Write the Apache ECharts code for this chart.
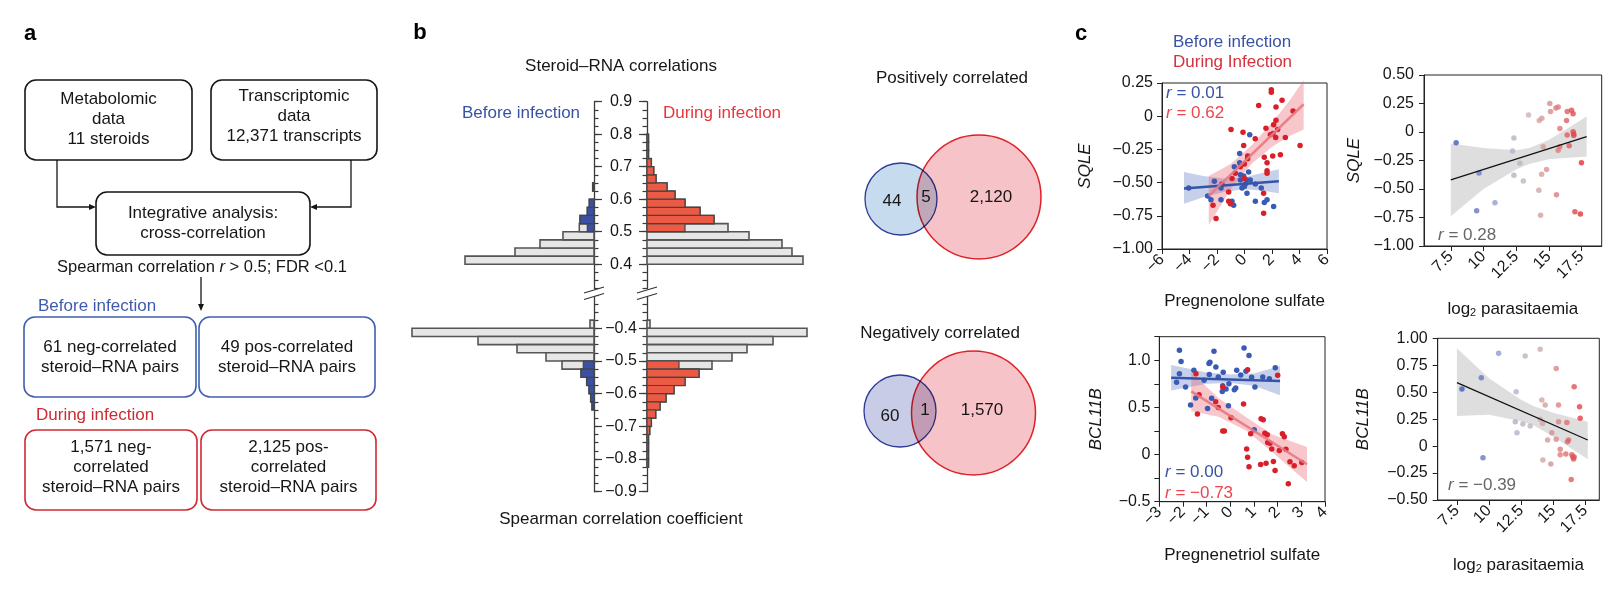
<!DOCTYPE html>
<html>
<head>
<meta charset="utf-8">
<script src="https://cdn.jsdelivr.net/npm/echarts@6.0.0/dist/echarts.min.js"></script>
<style>
html,body{margin:0;padding:0;background:#fff;}
#chart{width:1617px;height:593px;}
</style>
</head>
<body>
<div id="chart"></div>
<script>
// ======================= DATA =======================
// Panel a – flowchart numbers
const steroidCount = [11];
const transcriptCount = [12371];
const beforeInfectionPairs = [61, 49];      // [neg, pos]
const duringInfectionPairs = [1571, 2125];  // [neg, pos]
const rThreshold = [0.5];
const fdrThreshold = [0.1];

// Panel b – histograms (bar lengths, relative units)
const binWidth = 0.025;
const posBinStarts = [0.400,0.425,0.450,0.475,0.500,0.525,0.550,0.575,0.600,0.625,0.650,0.675,0.700,0.725,0.750,0.775];
const posBeforeAll = [129,79,54,31,14.7,14,6.7,4.7,0,1.3,0,0,0,0,0,0];
const posBeforeSig = [0,0,0,0,6.7,14,6.7,4.7,0,1.3,0,0,0,0,0,0];
const posDuringAll = [156,145,135,102,81,67,53,38,28,20,9,6.7,4.3,1.5,1.5,1.5];
const posDuringSig = [0,0,0,0,38,67,53,38,28,20,9,6.7,4.3,1.5,1.5,1.5];
const negBinStarts = [-0.400,-0.425,-0.450,-0.475,-0.500,-0.525,-0.550,-0.575,-0.600,-0.625,-0.650,-0.675,-0.700,-0.725,-0.750,-0.775,-0.800,-0.825];
const negBeforeAll = [4,182,116,77,48,32,13,7.3,5,3.3,2,0,0,0,0,0,0,0];
const negBeforeSig = [0,0,0,0,0,10.7,13,7.3,5,3.3,2,0,0,0,0,0,0,0];
const negDuringAll = [3,160,126,100,85,65,52,38,27,19,13,8.7,4.3,2.7,1.5,1.5,1.5,1.5];
const negDuringSig = [0,0,0,0,0,32,52,38,27,19,13,8.7,4.3,2.7,1.5,1.5,1.5,1.5];

// Panel b – Venn counts [before only, both, during only]
const vennPositive = [44, 5, 2120];
const vennNegative = [60, 1, 1570];

// Panel c – scatter data
const s1Before = [[-2.19,-0.49],[-4.06,-0.54],[-2.68,-0.60],[-2.44,-0.63],[-1.71,-0.63],[-1.71,-0.54],[-0.35,-0.28],[0.38,-0.14],[-0.74,-0.38],[-0.35,-0.35],[-0.30,-0.44],[-0.06,-0.45],[0.30,-0.42],[0.18,-0.48],[-0.30,-0.48],[-0.18,-0.54],[-0.01,-0.53],[0.18,-0.58],[-0.79,-0.67],[-0.91,-0.64],[0.79,-0.64],[1.22,-0.54],[1.64,-0.63],[1.44,-0.65],[2.12,-0.68],[0.79,-0.51],[0.42,-0.48],[0.06,-0.51]];
const s1During = [[1.95,0.20],[1.95,0.18],[2.73,0.12],[1.03,0.08],[2.29,0.07],[2.29,-0.03],[2.12,-0.065],[2.41,-0.10],[1.56,-0.09],[-0.98,-0.10],[2.07,-0.13],[1.88,-0.14],[2.27,-0.16],[2.97,-0.16],[0.78,-0.17],[-0.11,-0.12],[-0.06,-0.22],[3.53,0.04],[4.04,-0.22],[0.23,-0.30],[0.23,-0.32],[2.61,-0.29],[2.05,-0.30],[1.44,-0.31],[1.64,-0.35],[1.64,-0.41],[1.64,-0.43],[-0.01,-0.36],[-0.30,-0.38],[-0.91,-0.47],[-1.64,-0.51],[-1.15,-0.57],[-1.15,-0.64],[-1.03,-0.66],[1.39,-0.58],[1.39,-0.73],[-2.29,-0.67],[-2.07,-0.77],[-0.01,-0.47],[-0.67,-0.43]];
const s2Points = [[7.91,-0.094],[9.66,-0.36],[9.48,-0.69],[10.88,-0.62],[12.33,-0.053],[12.23,-0.167],[12.33,-0.38],[12.79,-0.275],[13.05,-0.43],[13.45,0.15],[14.27,0.10],[14.47,0.12],[14.57,-0.13],[14.45,-0.37],[14.83,-0.33],[14.24,-0.51],[14.37,-0.73],[15.08,0.25],[15.13,0.18],[15.54,0.21],[15.72,0.22],[15.59,-0.55],[15.85,0.03],[15.72,-0.16],[15.85,-0.13],[16.36,0.10],[16.41,0.18],[16.74,0.19],[16.86,0.16],[16.41,-0.026],[16.56,-0.12],[16.86,0.003],[16.91,-0.017],[16.91,-0.03],[17.5,-0.27],[17.0,-0.70],[17.42,-0.72]];
const s3Before = [[-2.15,1.106],[-2.08,0.986],[-2.27,0.766],[-2.15,0.858],[-1.89,0.716],[-1.54,0.894],[-1.46,0.60],[-1.68,0.525],[-1.11,0.787],[-0.90,0.965],[-0.86,0.979],[-0.89,0.848],[-0.69,1.096],[-0.61,0.929],[-0.51,0.823],[-0.30,0.872],[-0.32,0.73],[-0.34,0.67],[-0.18,0.695],[-0.06,0.75],[-0.08,0.518],[-0.79,0.596],[-0.96,0.489],[0.17,0.688],[0.23,0.706],[0.27,0.894],[0.44,0.844],[0.58,1.13],[0.79,1.05],[0.66,0.883],[0.90,0.819],[1.04,0.716],[1.01,0.262],[1.37,0.823],[1.65,0.805],[1.90,0.922]];
const s3During = [[-1.45,0.858],[-1.32,0.635],[-1.39,0.429],[-0.62,0.56],[-0.51,0.50],[-0.32,0.716],[-0.32,0.25],[-0.25,0.25],[0.03,0.39],[0.56,0.535],[0.73,0.90],[0.69,0.06],[0.73,-0.028],[0.79,-0.128],[0.86,0.22],[1.30,0.38],[1.39,0.369],[1.46,0.227],[1.56,0.209],[1.58,0.128],[1.68,0.12],[1.75,0.06],[1.82,-0.074],[1.89,-0.17],[1.28,-0.106],[1.51,-0.092],[2.0,0.84],[2.07,0.043],[2.20,0.22],[2.28,0.19],[2.35,0.057],[2.52,-0.075],[2.70,-0.12],[2.45,-0.31],[3.02,-0.085]];
const s4Points = [[7.89,0.53],[9.40,0.635],[9.53,-0.107],[10.75,0.861],[12.12,0.505],[12.05,0.227],[12.18,0.125],[12.64,0.205],[12.82,0.836],[13.21,0.187],[13.99,0.898],[14.12,0.428],[14.38,0.381],[13.99,0.25],[14.17,0.21],[14.2,-0.129],[14.57,0.057],[14.82,-0.166],[14.9,0.125],[15.24,0.72],[15.42,0.381],[15.42,0.227],[15.24,0.063],[15.55,-0.03],[15.55,-0.08],[16.07,0.22],[15.99,-0.073],[16.12,0.041],[16.2,0.057],[16.64,0.55],[17.06,0.366],[17.11,0.258],[16.46,-0.08],[16.54,-0.10],[16.59,-0.12],[16.64,-0.10],[16.41,-0.31]];

// Panel c – fitted lines and confidence bands
const s1BeforeLine = [[-4.4,-0.545],[2.5,-0.49]];
const s1BeforeBandX = [-4.4,-3,-1.5,0,1.2,2.5];
const s1BeforeBandUp = [-0.42,-0.45,-0.47,-0.46,-0.43,-0.40];
const s1BeforeBandLo = [-0.66,-0.61,-0.57,-0.55,-0.56,-0.58];
const s1DuringLine = [[-2.6,-0.60],[4.3,0.09]];
const s1DuringBandX = [-2.6,-1,0.5,2,3.3,4.3];
const s1DuringBandUp = [-0.45,-0.36,-0.22,-0.05,0.12,0.27];
const s1DuringBandLo = [-0.82,-0.55,-0.36,-0.23,-0.15,-0.10];
const s2Line = [[7.5,-0.42],[17.9,-0.04]];
const s2BandX = [7.5,10,12.5,13.5,15,17.9];
const s2BandUp = [-0.10,-0.14,-0.16,-0.14,-0.07,0.135];
const s2BandLo = [-0.74,-0.50,-0.33,-0.28,-0.24,-0.215];
const s3BeforeLine = [[-2.5,0.815],[2.1,0.78]];
const s3BeforeBandX = [-2.5,-1,0,1,2.1];
const s3BeforeBandUp = [0.95,0.87,0.85,0.86,0.94];
const s3BeforeBandLo = [0.68,0.75,0.76,0.73,0.63];
const s3DuringLine = [[-1.65,0.67],[3.24,-0.103]];
const s3DuringBandX = [-1.65,-0.5,0.7,1.8,3.24];
const s3DuringBandUp = [0.87,0.60,0.39,0.21,0.08];
const s3DuringBandLo = [0.46,0.40,0.25,0.02,-0.29];
const s4Line = [[7.5,0.589],[17.7,0.057]];
const s4BandX = [7.5,10,12.5,13.5,15,17.7];
const s4BandUp = [0.907,0.63,0.43,0.37,0.31,0.227];
const s4BandLo = [0.279,0.29,0.23,0.19,0.09,-0.123];
const rValues = { s1: [0.01, 0.62], s2: [0.28], s3: [0.00, -0.73], s4: [-0.39] };

// Tick label values
const parasitaemiaTicks = [7.5, 10, 12.5, 15, 17.5];

// ======================= STYLE / HELPERS =======================
const F = "'Liberation Sans', Arial, Helvetica, sans-serif";
const INK = '#161616';
const BLUE_T = '#3953a4';
const minus = s => String(s).replace(/-/g, '\u2212');
const fmtN = n => n.toLocaleString('en-US');
const fmtR = v => minus(v.toFixed(2));

const grids = [], xAxes = [], yAxes = [], series = [];
function addGrid(g, xa, ya) {
  const i = grids.length;
  grids.push(g);
  xAxes.push(Object.assign({ gridIndex: i }, xa));
  yAxes.push(Object.assign({ gridIndex: i }, ya));
  return i;
}

// ---------- Panel b histogram grids ----------
const HL = 400, HW = 194, HR = 647;
const upTop = 101.7, upScale = 325;
const loY04 = 328.3, loScale = 326.8;
const histAxisLine = { show: true, onZero: false, lineStyle: { color: '#3a3a3a', width: 1.3 } };
const hidden = { show: false };

function histGrid(side, kind, half) {
  const isLeft = side === 'L';
  let min, max, top, height, interval, tickLen;
  if (half === 'U') {
    max = 0.9; top = upTop;
    if (kind === 'minor') { min = 0.325; interval = 0.025; tickLen = 4.5; }
    else { min = 0.4; interval = 0.1; tickLen = 8; }
    height = (max - min) * upScale;
  } else {
    min = -0.9;
    if (kind === 'minor') { max = -0.3; interval = 0.025; tickLen = 4.5; }
    else { max = -0.4; interval = 0.1; tickLen = 8; }
    top = loY04 - (max + 0.4) * loScale;
    height = (max - min) * loScale;
  }
  const showLabel = (!isLeft && kind === 'major');
  return addGrid(
    { left: isLeft ? HL : HR, top: top, width: HW, height: height },
    { type: 'value', min: 0, max: HW, inverse: isLeft, show: false },
    { type: 'value', min: min, max: max, interval: interval, position: isLeft ? 'right' : 'left',
      axisLine: kind === 'minor' ? histAxisLine : { show: false },
      axisTick: { show: true, length: tickLen, lineStyle: { color: '#3a3a3a', width: 1.2 } },
      splitLine: hidden,
      axisLabel: showLabel ? { show: true, align: 'center', margin: 26, fontSize: 16, color: INK, fontFamily: F,
        formatter: v => minus(v.toFixed(1)) } : { show: false } }
  );
}

function barData(starts, vals) {
  return starts.map((s, i) => [s, +(s + binWidth).toFixed(4), vals[i]]).filter(d => d[2] > 0);
}
function barSeries(gi, data, fill, stroke, lw, z) {
  return {
    type: 'custom', xAxisIndex: gi, yAxisIndex: gi, data: data, z: z, silent: true,
    encode: { x: 2, y: 0 },
    renderItem: function (p, api) {
      const a = api.coord([0, api.value(0)]);
      const b = api.coord([api.value(2), api.value(1)]);
      return { type: 'rect',
        shape: { x: Math.min(a[0], b[0]), y: Math.min(a[1], b[1]), width: Math.abs(b[0] - a[0]), height: Math.abs(b[1] - a[1]) },
        style: { fill: fill, stroke: stroke, lineWidth: lw } };
    }
  };
}
const GREY_FILL = '#e6e6e6', BAR_STROKE = '#555', BLUE_BAR = '#3b50a2', RED_BAR = '#eb5a45';

['U', 'L'].forEach(half => {
  const gL = histGrid('L', 'minor', half);
  const gR = histGrid('R', 'minor', half);
  histGrid('L', 'major', half);
  histGrid('R', 'major', half);
  const starts = half === 'U' ? posBinStarts : negBinStarts;
  const bAll = half === 'U' ? posBeforeAll : negBeforeAll;
  const bSig = half === 'U' ? posBeforeSig : negBeforeSig;
  const dAll = half === 'U' ? posDuringAll : negDuringAll;
  const dSig = half === 'U' ? posDuringSig : negDuringSig;
  series.push(barSeries(gL, barData(starts, bAll), GREY_FILL, BAR_STROKE, 1.6, 2));
  series.push(barSeries(gL, barData(starts, bSig), BLUE_BAR, '#444', 1.2, 3));
  series.push(barSeries(gR, barData(starts, dAll), GREY_FILL, BAR_STROKE, 1.6, 2));
  series.push(barSeries(gR, barData(starts, dSig), RED_BAR, '#444', 1.2, 3));
});

// ---------- Panel c scatter grids ----------
const axLine = { show: true, onZero: false, lineStyle: { color: '#222', width: 1 } };
const axTick = { show: true, length: 5, lineStyle: { color: '#222', width: 1 } };
const tickFont = { fontSize: 16, color: INK, fontFamily: F };
const nameFont = { fontSize: 17, color: INK, fontFamily: F };
const subRich = { n: { fontSize: 17, color: INK, fontFamily: F, lineHeight: 20, verticalAlign: 'bottom' },
                  s: { fontSize: 11, color: INK, fontFamily: F, lineHeight: 11, verticalAlign: 'bottom' } };

function yFmt2(v) { return Math.abs(v) < 1e-9 ? '0' : minus(v.toFixed(2)); }
function yFmtHalf(v) {
  if (Math.abs(v * 2 - Math.round(v * 2)) > 1e-6) return '';
  return Math.abs(v) < 1e-9 ? '0' : minus(v.toFixed(1));
}

function scatterGrid(g, x, y) {
  return addGrid(Object.assign({ show: true, borderColor: '#222', borderWidth: 1, backgroundColor: 'transparent' }, g),
    Object.assign({ type: 'value', axisLine: axLine, axisTick: axTick, splitLine: hidden, nameLocation: 'middle' }, x),
    Object.assign({ type: 'value', axisLine: axLine, axisTick: axTick, splitLine: hidden, nameLocation: 'middle', nameRotate: 90 }, y));
}

const gS1 = scatterGrid({ left: 1162, top: 83, width: 165, height: 166 },
  { min: -6, max: 6, interval: 2, axisLabel: Object.assign({ rotate: 45, margin: 8, formatter: v => minus(v) }, tickFont),
    name: 'Pregnenolone sulfate', nameGap: 44, nameTextStyle: nameFont },
  { min: -1, max: 0.25, interval: 0.25, axisLabel: Object.assign({ margin: 9, formatter: yFmt2 }, tickFont),
    name: 'SQLE', nameGap: 68, nameTextStyle: Object.assign({ fontStyle: 'italic' }, nameFont) });

const gS2 = scatterGrid({ left: 1424, top: 75, width: 177.7, height: 171 },
  { min: 5.45, max: 19.05, axisTick: Object.assign({ customValues: parasitaemiaTicks }, axTick),
    axisLabel: Object.assign({ customValues: parasitaemiaTicks, rotate: 45, margin: 8, formatter: v => String(v) }, tickFont),
    name: '{n|log}{s|2}{n| parasitaemia}', nameGap: 52, nameTextStyle: Object.assign({ rich: subRich }, nameFont) },
  { min: -1, max: 0.5, interval: 0.25, axisLabel: Object.assign({ margin: 10, formatter: yFmt2 }, tickFont),
    name: 'SQLE', nameGap: 61, nameTextStyle: Object.assign({ fontStyle: 'italic' }, nameFont) });

const gS3 = scatterGrid({ left: 1159.3, top: 336.7, width: 165.7, height: 165 },
  { min: -3, max: 4, interval: 1, axisLabel: Object.assign({ rotate: 45, margin: 8, formatter: v => minus(v) }, tickFont),
    name: 'Pregnenetriol sulfate', nameGap: 45, nameTextStyle: nameFont },
  { min: -0.5, max: 1.25, interval: 0.25, axisLabel: Object.assign({ margin: 9, formatter: yFmtHalf }, tickFont),
    name: 'BCL11B', nameGap: 55, nameTextStyle: Object.assign({ fontStyle: 'italic' }, nameFont) });

const gS4 = scatterGrid({ left: 1437.7, top: 338.3, width: 161.6, height: 161.7 },
  { min: 6.0, max: 18.6, axisTick: Object.assign({ customValues: parasitaemiaTicks }, axTick),
    axisLabel: Object.assign({ customValues: parasitaemiaTicks, rotate: 45, margin: 8, formatter: v => String(v) }, tickFont),
    name: '{n|log}{s|2}{n| parasitaemia}', nameGap: 54, nameTextStyle: Object.assign({ rich: subRich }, nameFont) },
  { min: -0.5, max: 1.0, interval: 0.25, axisLabel: Object.assign({ margin: 10, formatter: yFmt2 }, tickFont),
    name: 'BCL11B', nameGap: 66, nameTextStyle: Object.assign({ fontStyle: 'italic' }, nameFont) });

function bandSeries(gi, xs, up, lo, color, z) {
  return {
    type: 'custom', xAxisIndex: gi, yAxisIndex: gi, data: [[xs[0], up[0]]], z: z, silent: true,
    renderItem: function (p, api) {
      const pts = [];
      xs.forEach((x, i) => pts.push(api.coord([x, up[i]])));
      for (let i = xs.length - 1; i >= 0; i--) pts.push(api.coord([xs[i], lo[i]]));
      return { type: 'polygon', shape: { points: pts }, style: { fill: color } };
    }
  };
}
function lineSeries(gi, data, color, width, z) {
  return { type: 'line', xAxisIndex: gi, yAxisIndex: gi, data: data, symbol: 'none', z: z, silent: true,
    lineStyle: { color: color, width: width } };
}
function pointSeries(gi, data, color, z) {
  const s = { type: 'scatter', xAxisIndex: gi, yAxisIndex: gi, data: data, symbolSize: 5.5, z: z, silent: true };
  if (color) s.itemStyle = { color: color, opacity: 1 };
  return s;
}
const PT_BLUE = '#3a5bb4', PT_RED = '#d81f2a';
const BAND_BLUE = 'rgba(70,100,185,0.30)', BAND_RED = 'rgba(232,95,110,0.35)';
const LINE_BLUE = '#3553a8', LINE_RED = 'rgba(232,120,130,0.9)';

// S1
series.push(bandSeries(gS1, s1BeforeBandX, s1BeforeBandUp, s1BeforeBandLo, BAND_BLUE, 1));
series.push(bandSeries(gS1, s1DuringBandX, s1DuringBandUp, s1DuringBandLo, BAND_RED, 1));
series.push(pointSeries(gS1, s1Before, PT_BLUE, 3));
series.push(pointSeries(gS1, s1During, PT_RED, 3));
series.push(lineSeries(gS1, s1BeforeLine, LINE_BLUE, 2.5, 4));
series.push(lineSeries(gS1, s1DuringLine, LINE_RED, 2.5, 4));
// S3
series.push(bandSeries(gS3, s3BeforeBandX, s3BeforeBandUp, s3BeforeBandLo, BAND_BLUE, 1));
series.push(bandSeries(gS3, s3DuringBandX, s3DuringBandUp, s3DuringBandLo, BAND_RED, 1));
series.push(pointSeries(gS3, s3Before, PT_BLUE, 3));
series.push(pointSeries(gS3, s3During, PT_RED, 3));
series.push(lineSeries(gS3, s3BeforeLine, LINE_BLUE, 2.5, 4));
series.push(lineSeries(gS3, s3DuringLine, LINE_RED, 2.5, 4));
// S2 & S4
series.push(bandSeries(gS2, s2BandX, s2BandUp, s2BandLo, 'rgba(200,200,200,0.6)', 1));
series.push(lineSeries(gS2, s2Line, '#111', 1.2, 4));
const iS2 = series.length; series.push(pointSeries(gS2, s2Points, null, 3));
series.push(bandSeries(gS4, s4BandX, s4BandUp, s4BandLo, 'rgba(200,200,200,0.6)', 1));
series.push(lineSeries(gS4, s4Line, '#111', 1.2, 4));
const iS4 = series.length; series.push(pointSeries(gS4, s4Points, null, 3));

// ---------- Graphic elements (flowchart, Venn, annotations) ----------
const G = [];
function txt(x, y, text, o) {
  o = o || {};
  const st = { text: text, x: 0, y: 0, fill: o.fill || INK, fontSize: o.size || 17, fontFamily: F,
    fontWeight: o.weight || 'normal', fontStyle: o.style || 'normal',
    align: o.align || 'center', textAlign: o.align || 'center',
    verticalAlign: 'middle', textVerticalAlign: 'middle', lineHeight: o.lh || 20 };
  if (o.rich) st.rich = o.rich;
  G.push({ type: 'text', x: x, y: y, z: 100, style: st });
}
function box(x, y, w, h, stroke) {
  G.push({ type: 'rect', z: 50, shape: { x: x, y: y, width: w, height: h, r: 11 }, style: { fill: '#fff', stroke: stroke, lineWidth: 1.6 } });
}
function pline(points, color, lw, z) {
  G.push({ type: 'polyline', z: z || 60, shape: { points: points }, style: { stroke: color || INK, lineWidth: lw || 1.3, fill: null } });
}
function tri(points) {
  G.push({ type: 'polygon', z: 60, shape: { points: points }, style: { fill: INK } });
}
const italicR = (color, size) => ({ i: { fontStyle: 'italic', fill: color, fontSize: size || 17, fontFamily: F }, t: { fill: color, fontSize: size || 17, fontFamily: F } });

// Panel labels
txt(30, 34, 'a', { size: 22, weight: 'bold', fill: '#000' });
txt(420, 33, 'b', { size: 22, weight: 'bold', fill: '#000' });
txt(1081, 34, 'c', { size: 22, weight: 'bold', fill: '#000' });

// Panel a flowchart
box(25, 80, 167, 80, INK);
txt(108.5, 119, 'Metabolomic\ndata\n' + fmtN(steroidCount[0]) + ' steroids');
box(211, 80, 166, 80, INK);
txt(294, 116, 'Transcriptomic\ndata\n' + fmtN(transcriptCount[0]) + ' transcripts');
box(96, 192, 214, 63, INK);
txt(203, 223.5, 'Integrative analysis:\ncross-correlation');
pline([[57, 160], [57, 207], [90, 207]]);
tri([[96, 207], [89, 204], [89, 210]]);
pline([[351, 160], [351, 207], [316, 207]]);
tri([[310, 207], [317, 204], [317, 210]]);
txt(202, 267, '{t|Spearman correlation }{i|r}{t| > ' + rThreshold[0] + '; FDR <' + fdrThreshold[0] + '}', { rich: italicR(INK, 16.5) });
pline([[201, 277], [201, 305]]);
tri([[201, 311], [198, 304], [204, 304]]);
txt(38, 306, 'Before infection', { align: 'left', fill: '#3f5bb0' });
box(24, 317, 172, 80, '#3f5fae');
txt(110, 357, beforeInfectionPairs[0] + ' neg-correlated\nsteroid\u2013RNA pairs');
box(199, 317, 176, 80, '#3f5fae');
txt(287, 357, beforeInfectionPairs[1] + ' pos-correlated\nsteroid\u2013RNA pairs');
txt(36, 415, 'During infection', { align: 'left', fill: '#cf2a33' });
box(25, 430, 172, 80, '#cf2a33');
txt(111, 467, fmtN(duringInfectionPairs[0]) + ' neg-\ncorrelated\nsteroid\u2013RNA pairs');
box(201, 430, 175, 80, '#cf2a33');
txt(288.5, 467, fmtN(duringInfectionPairs[1]) + ' pos-\ncorrelated\nsteroid\u2013RNA pairs');

// Panel b texts
txt(621, 66, 'Steroid\u2013RNA correlations');
txt(521, 113, 'Before infection', { fill: BLUE_T });
txt(722, 113, 'During infection', { fill: '#e8363b' });
txt(621, 519, 'Spearman correlation coefficient');
// axis break marks
[594, 647].forEach(ax => {
  G.push({ type: 'polygon', z: 90, shape: { points: [[ax - 10, 293.5], [ax + 10, 287.5], [ax + 10, 293.5], [ax - 10, 299.5]] }, style: { fill: '#fff' } });
  pline([[ax - 10, 293], [ax + 10, 287]], '#333', 1.2, 95);
  pline([[ax - 10, 299.5], [ax + 10, 293.5]], '#333', 1.2, 95);
});

// Venn diagrams
function venn(cy1, cx1, cx2, cy2, blueFill, counts, title, tx, ty, lbl) {
  txt(tx, ty, title);
  G.push({ type: 'circle', z: 40, shape: { cx: cx1, cy: cy1, r: 36 }, style: { fill: blueFill, stroke: '#2b3a97', lineWidth: 1.3 } });
  G.push({ type: 'circle', z: 41, shape: { cx: cx2, cy: cy2, r: 62 }, style: { fill: '#f6c3c8', stroke: '#e3242b', lineWidth: 1.5, blend: 'multiply' } });
  txt(lbl[0][0], lbl[0][1], fmtN(counts[0]));
  txt(lbl[1][0], lbl[1][1], fmtN(counts[1]));
  txt(lbl[2][0], lbl[2][1], fmtN(counts[2]));
}
venn(199, 901, 979, 197, '#c6dcee', vennPositive, 'Positively correlated', 952, 78, [[892, 201], [926, 197], [991, 197]]);
venn(411, 900, 973.5, 413, '#c8cce6', vennNegative, 'Negatively correlated', 940, 333, [[890, 416], [925, 410], [982, 410]]);

// Panel c legend and r annotations
txt(1173, 42, 'Before infection', { align: 'left', fill: BLUE_T });
txt(1173, 62, 'During Infection', { align: 'left', fill: '#d2333c' });
txt(1166, 93, '{i|r}{t| = ' + fmtR(rValues.s1[0]) + '}', { align: 'left', rich: italicR(BLUE_T) });
txt(1166, 113, '{i|r}{t| = ' + fmtR(rValues.s1[1]) + '}', { align: 'left', rich: italicR('#e8484c') });
txt(1438, 235, '{i|r}{t| = ' + fmtR(rValues.s2[0]) + '}', { align: 'left', rich: italicR('#666') });
txt(1165, 472, '{i|r}{t| = ' + fmtR(rValues.s3[0]) + '}', { align: 'left', rich: italicR(BLUE_T) });
txt(1165, 493, '{i|r}{t| = ' + fmtR(rValues.s3[1]) + '}', { align: 'left', rich: italicR('#e8484c') });
txt(1448, 485, '{i|r}{t| = ' + fmtR(rValues.s4[0]) + '}', { align: 'left', rich: italicR('#666') });

// ======================= CHART =======================
const chart = echarts.init(document.getElementById('chart'), null, { renderer: 'canvas' });
chart.setOption({
  animation: false,
  backgroundColor: '#fff',
  textStyle: { fontFamily: F },
  grid: grids,
  xAxis: xAxes,
  yAxis: yAxes,
  visualMap: [{
    type: 'continuous', show: false, seriesIndex: [iS2, iS4], dimension: 0, min: 7, max: 18,
    inRange: { color: ['#2f4fb8', '#5c6fc2', '#a8aed4', '#cbb6b6', '#dc7878', '#ea1a22'] }
  }],
  series: series,
  graphic: { elements: G }
});
</script>
</body>
</html>
